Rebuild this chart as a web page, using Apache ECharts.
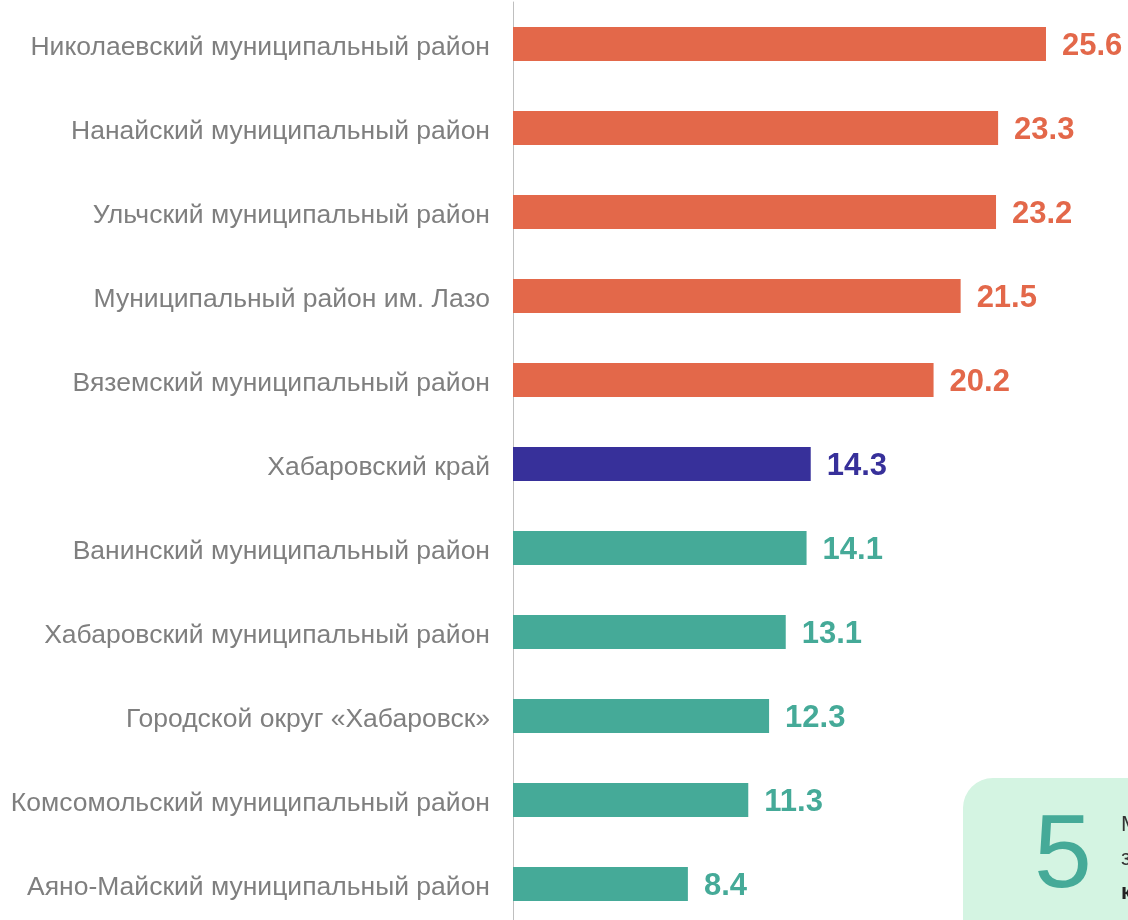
<!DOCTYPE html>
<html><head><meta charset="utf-8">
<script src="https://cdn.jsdelivr.net/npm/echarts@6/dist/echarts.min.js"></script>
<style>html,body{margin:0;padding:0;background:#fff}#c{width:1128px;height:920px}</style>
</head><body><div id="c"></div>
<script>
const categories = [
  "Николаевский муниципальный район",
  "Нанайский муниципальный район",
  "Ульчский муниципальный район",
  "Муниципальный район им. Лазо",
  "Вяземский муниципальный район",
  "Хабаровский край",
  "Ванинский муниципальный район",
  "Хабаровский муниципальный район",
  "Городской округ «Хабаровск»",
  "Комсомольский муниципальный район",
  "Аяно-Майский муниципальный район"
];
const values = [25.6, 23.3, 23.2, 21.5, 20.2, 14.3, 14.1, 13.1, 12.3, 11.3, 8.4];
const groups = ["high","high","high","high","high","region","low","low","low","low","low"];
const groupColors = {high: "#E3684A", region: "#37309A", low: "#45AA98"};
const boxNumber = "5";
const boxLines = ["М", "з", "к"];

const chart = echarts.init(document.getElementById('c'), null, {renderer: 'canvas'});
const data = values.map((v, i) => ({
  value: v,
  itemStyle: {color: groupColors[groups[i]]},
  label: {color: groupColors[groups[i]]}
}));
chart.setOption({
  animation: false,
  grid: {left: 513, top: 2, width: 624.6, height: 924, containLabel: false, outerBoundsMode: 'none'},
  xAxis: {type: 'value', min: 0, max: 30, show: false},
  yAxis: {
    type: 'category', data: categories, inverse: true,
    axisLine: {show: true, lineStyle: {color: '#BFBFBF', width: 1}},
    axisTick: {show: false},
    axisLabel: {color: '#7F7F7F', fontSize: 26.5, fontFamily: '"Liberation Sans", Arial, sans-serif', margin: 23,
      verticalAlign: 'top', lineHeight: 7}
  },
  series: [{
    type: 'bar', data: data, barWidth: 34,
    label: {show: true, position: 'right', distance: 16, fontSize: 31, fontWeight: 'bold',
      verticalAlign: 'top', lineHeight: 4,
      fontFamily: '"Liberation Sans", Arial, sans-serif', formatter: p => p.value.toFixed(1)}
  }],
  graphic: [
    {type: 'rect', left: 963, top: 778, shape: {width: 200, height: 180, r: 30}, style: {fill: '#D4F4E2'}, z: 10},
    {type: 'text', left: 1034, top: 806, style: {text: boxNumber, fill: '#45AA98', font: '104px "Liberation Sans", Arial, sans-serif'}, z: 11},
    {type: 'text', left: 1121, top: 814, style: {text: boxLines[0], fill: '#333', font: '22px "Liberation Sans", Arial, sans-serif'}, z: 11},
    {type: 'text', left: 1121, top: 848, style: {text: boxLines[1], fill: '#333', font: '22px "Liberation Sans", Arial, sans-serif'}, z: 11},
    {type: 'text', left: 1121, top: 882, style: {text: boxLines[2], fill: '#222', font: 'bold 22px "Liberation Sans", Arial, sans-serif'}, z: 11}
  ]
});
</script></body></html>
